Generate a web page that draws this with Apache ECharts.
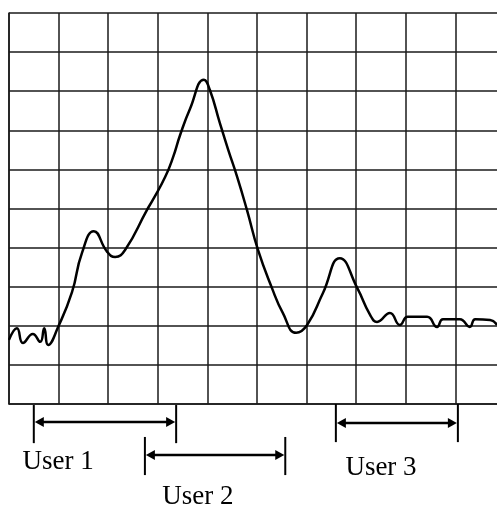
<!DOCTYPE html>
<html><head><meta charset="utf-8">
<script src="https://cdn.jsdelivr.net/npm/echarts@6/dist/echarts.min.js"></script>
<style>html,body{margin:0;padding:0;background:#fff}#c{width:497px;height:507px}</style>
</head><body><div id="c"></div><script>
// Spectrum trace (grid units: 10 columns x 10 rows)
const traceX = [0.00,0.16,0.28,0.48,0.63,0.71,0.79,0.99,1.27,1.47,1.71,1.98,2.14,2.34,2.78,2.90,3.15,3.31,3.45,3.65,3.93,4.05,4.25,4.42,4.60,4.80,5.02,5.30,5.52,5.79,6.01,6.33,6.67,7.02,7.28,7.42,7.68,7.88,8.04,8.43,8.63,8.75,9.09,9.29,9.40,9.70,9.84];
const traceY = [1.64,1.94,1.56,1.79,1.59,1.94,1.51,1.97,2.86,3.86,4.42,3.89,3.76,3.94,4.96,5.22,5.81,6.32,6.88,7.55,8.29,8.03,7.19,6.50,5.81,4.95,3.94,2.97,2.33,1.82,2.02,2.84,3.73,2.97,2.28,2.10,2.33,2.02,2.23,2.23,1.97,2.17,2.17,1.97,2.17,2.15,2.02];
// User bands (same horizontal units as the grid)
const userNames = ['User 1','User 2','User 3'];
const userStart = [0.50, 2.74, 6.59];
const userEnd   = [3.37, 5.57, 9.05];
// vertical placement in the annotation strip below the grid (0 = grid bottom, 10 = page bottom)
const arrowLevel = [1.75, 4.95, 1.84];
const barTop     = [0.10, 3.20, 0.00];
const barBottom  = [3.80, 6.90, 3.70];
const labelX     = [0.99, 3.81, 7.50];
const labelY     = [5.60, 9.00, 6.20];

const chart = echarts.init(document.getElementById('c'), null, {renderer:'canvas'});
const gridLine = {show:true, lineStyle:{color:'#1a1a1a', width:1.5}};
const annData = userNames.map((n,i)=>[userStart[i], userEnd[i], arrowLevel[i], barTop[i], barBottom[i], labelX[i], labelY[i]]);

function renderItem(params, api){
  const i = params.dataIndex;
  const s = api.coord([api.value(0), api.value(2)]);
  const e = api.coord([api.value(1), api.value(2)]);
  const t1 = api.coord([api.value(0), api.value(3)]);
  const b1 = api.coord([api.value(0), api.value(4)]);
  const t2 = api.coord([api.value(1), api.value(3)]);
  const b2 = api.coord([api.value(1), api.value(4)]);
  const lp = api.coord([api.value(5), api.value(6)]);
  const ah = 10, aw = 5;
  return {type:'group', children:[
    {type:'line', shape:{x1:t1[0],y1:t1[1],x2:b1[0],y2:b1[1]}, style:{stroke:'#000',lineWidth:2}},
    {type:'line', shape:{x1:t2[0],y1:t2[1],x2:b2[0],y2:b2[1]}, style:{stroke:'#000',lineWidth:2}},
    {type:'line', shape:{x1:s[0]+ah-1,y1:s[1],x2:e[0]-ah+1,y2:e[1]}, style:{stroke:'#000',lineWidth:2.5}},
    {type:'polygon', shape:{points:[[s[0]+1,s[1]],[s[0]+ah,s[1]-aw],[s[0]+ah,s[1]+aw]]}, style:{fill:'#000'}},
    {type:'polygon', shape:{points:[[e[0]-1,e[1]],[e[0]-ah,e[1]-aw],[e[0]-ah,e[1]+aw]]}, style:{fill:'#000'}},
    {type:'text', x:lp[0], y:lp[1], style:{text:userNames[i], fontSize:27, fontFamily:'"Liberation Serif","Times New Roman",serif', fill:'#000', align:'center', verticalAlign:'middle'}}
  ]};
}

chart.setOption({
  animation:false,
  backgroundColor:'#fff',
  grid:[
    {left:9, width:496, top:13, height:391, outerBoundsMode:'none', containLabel:false},
    {left:9, width:496, top:404, height:103, outerBoundsMode:'none', containLabel:false}
  ],
  xAxis:[
    {gridIndex:0, type:'value', min:0, max:10, interval:1, axisLabel:{show:false}, axisTick:{show:false},
     axisLine:{show:true, lineStyle:{color:'#1a1a1a', width:1.5}}, splitLine:gridLine},
    {gridIndex:1, type:'value', min:0, max:10, show:false}
  ],
  yAxis:[
    {gridIndex:0, type:'value', min:0, max:10, interval:1, axisLabel:{show:false}, axisTick:{show:false},
     axisLine:{show:true, lineStyle:{color:'#1a1a1a', width:1.5}}, splitLine:gridLine},
    {gridIndex:1, type:'value', min:0, max:10, inverse:true, show:false}
  ],
  series:[
    {type:'line', xAxisIndex:0, yAxisIndex:0, data:traceX.map((x,i)=>[x, traceY[i]]),
     smooth:0.5, symbol:'none', lineStyle:{color:'#000', width:2.5}, z:5},
    {type:'custom', xAxisIndex:1, yAxisIndex:1, data:annData, renderItem:renderItem, clip:false, silent:true}
  ]
});
</script></body></html>
